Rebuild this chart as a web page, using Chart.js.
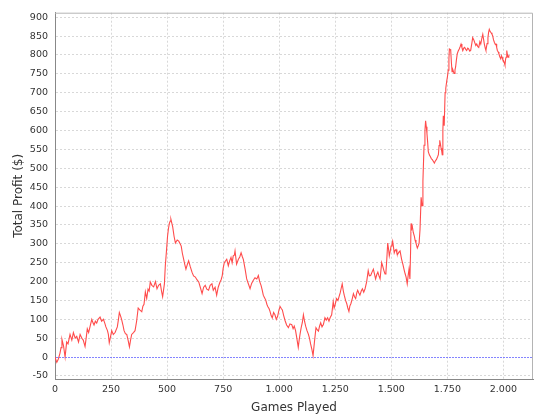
<!DOCTYPE html>
<html>
<head>
<meta charset="utf-8">
<script src="https://cdn.jsdelivr.net/npm/chart.js@4"></script>
<style>
  html, body { margin: 0; padding: 0; background: #fff; }
  #wrap { width: 540px; height: 420px; }
</style>
</head>
<body>
<div id="wrap"><canvas id="chart"></canvas></div>
<script>
// games played (x) and running total profit (y)
const games = [0, 8, 15, 22, 27, 31, 38, 45, 52, 58, 67, 75, 82, 90, 97, 105, 112, 120, 126, 134, 140, 144, 150, 156, 164, 170, 174, 180, 186, 192, 201, 208, 216, 222, 227, 234, 238, 242, 248, 253, 260, 268, 278, 283, 287, 292, 297, 303, 308, 314, 320, 326, 332, 337, 342, 350, 357, 364, 371, 378, 387, 392, 397, 403, 409, 415, 420, 425, 432, 440, 448, 455, 462, 470, 475, 480, 488, 492, 497, 502, 506, 510, 514, 517, 521, 525, 531, 537, 545, 552, 558, 563, 568, 574, 579, 584, 590, 596, 603, 611, 618, 626, 633, 641, 648, 656, 663, 670, 677, 685, 692, 700, 706, 714, 721, 728, 736, 741, 746, 750, 755, 761, 766, 773, 779, 785, 790, 795, 800, 803, 810, 818, 824, 830, 836, 840, 848, 855, 862, 870, 877, 884, 892, 900, 907, 913, 919, 924, 929, 934, 940, 945, 949, 955, 959, 964, 969, 975, 981, 987, 993, 999, 1004, 1010, 1014, 1020, 1026, 1033, 1041, 1048, 1056, 1062, 1067, 1073, 1078, 1085, 1089, 1093, 1098, 1103, 1108, 1113, 1118, 1124, 1130, 1135, 1140, 1146, 1151, 1157, 1164, 1170, 1175, 1180, 1185, 1191, 1197, 1204, 1210, 1216, 1222, 1227, 1234, 1241, 1245, 1249, 1256, 1262, 1267, 1272, 1276, 1281, 1286, 1290, 1296, 1301, 1306, 1311, 1315, 1320, 1326, 1331, 1336, 1341, 1346, 1350, 1355, 1360, 1366, 1371, 1377, 1383, 1390, 1397, 1402, 1408, 1414, 1420, 1425, 1430, 1435, 1440, 1445, 1450, 1457, 1462, 1467, 1472, 1476, 1480, 1484, 1488, 1491, 1495, 1499, 1503, 1506, 1510, 1513, 1517, 1521, 1525, 1528, 1534, 1539, 1546, 1552, 1558, 1562, 1566, 1571, 1575, 1579, 1583, 1586, 1588, 1591, 1594, 1598, 1603, 1606, 1610, 1613, 1616, 1620, 1624, 1628, 1633, 1637, 1641, 1646, 1650, 1653, 1656, 1659, 1662, 1665, 1670, 1674, 1679, 1683, 1688, 1692, 1697, 1701, 1706, 1710, 1713, 1716, 1719, 1722, 1725, 1727, 1730, 1732, 1736, 1740, 1743, 1747, 1751, 1754, 1757, 1759, 1762, 1765, 1768, 1771, 1775, 1780, 1784, 1787, 1790, 1794, 1798, 1803, 1807, 1811, 1815, 1819, 1823, 1827, 1832, 1836, 1841, 1845, 1850, 1854, 1859, 1863, 1868, 1872, 1877, 1881, 1886, 1890, 1895, 1899, 1904, 1908, 1912, 1915, 1919, 1922, 1927, 1931, 1934, 1937, 1941, 1945, 1949, 1952, 1956, 1960, 1964, 1967, 1970, 1973, 1977, 1980, 1984, 1988, 1991, 1994, 1997, 2000, 2004, 2007, 2010, 2012, 2014, 2016, 2018, 2021, 2024, 2027];
const profit = [0, -14, -5, 10, 25, 47, 30, 0, 40, 35, 60, 45, 65, 50, 55, 40, 60, 50, 45, 28, 55, 75, 65, 80, 100, 90, 85, 95, 90, 100, 106, 95, 100, 90, 80, 70, 60, 38, 55, 70, 60, 65, 80, 100, 118, 110, 100, 85, 70, 62, 60, 45, 27, 45, 60, 65, 70, 95, 130, 125, 120, 135, 140, 173, 155, 180, 175, 199, 190, 186, 200, 181, 190, 194, 175, 160, 194, 242, 280, 320, 340, 354, 360, 365, 355, 345, 320, 302, 310, 307, 300, 294, 275, 259, 245, 233, 245, 255, 240, 225, 215, 212, 205, 199, 185, 168, 185, 190, 180, 177, 190, 194, 177, 185, 164, 185, 199, 205, 216, 235, 250, 255, 259, 242, 255, 264, 250, 268, 270, 281, 246, 259, 265, 276, 265, 259, 233, 207, 195, 181, 195, 203, 210, 207, 216, 200, 190, 178, 164, 158, 151, 140, 134, 128, 121, 110, 104, 118, 112, 100, 108, 125, 134, 128, 125, 110, 97, 85, 78, 88, 86, 75, 82, 70, 52, 26, 45, 61, 78, 91, 112, 95, 82, 70, 61, 50, 35, 20, 4, 39, 78, 72, 69, 82, 91, 80, 86, 104, 98, 104, 95, 104, 112, 147, 130, 138, 155, 150, 160, 170, 181, 194, 175, 164, 150, 142, 130, 121, 135, 142, 155, 168, 160, 155, 170, 177, 170, 164, 175, 181, 172, 181, 199, 229, 215, 216, 225, 233, 220, 207, 218, 225, 215, 207, 250, 240, 229, 220, 225, 260, 302, 285, 268, 280, 294, 300, 307, 290, 276, 283, 285, 275, 272, 278, 281, 259, 245, 229, 220, 212, 194, 215, 233, 207, 280, 354, 340, 345, 330, 320, 310, 302, 295, 289, 295, 302, 337, 423, 401, 466, 561, 600, 626, 610, 592, 570, 544, 535, 531, 525, 523, 518, 514, 520, 523, 530, 536, 560, 574, 565, 553, 545, 536, 600, 639, 613, 700, 712, 730, 745, 760, 790, 816, 815, 812, 780, 756, 760, 751, 760, 769, 785, 803, 810, 816, 822, 829, 820, 812, 818, 820, 815, 812, 818, 816, 810, 812, 830, 846, 840, 833, 825, 829, 822, 820, 835, 829, 845, 855, 840, 829, 818, 812, 830, 846, 860, 868, 862, 859, 855, 851, 840, 833, 828, 829, 820, 812, 808, 803, 795, 790, 798, 794, 788, 786, 780, 773, 790, 794, 805, 812, 800, 794, 798, 799];

const xTicks = [0, 250, 500, 750, 1000, 1250, 1500, 1750, 2000];
const yTicks = [-50, 0, 50, 100, 150, 200, 250, 300, 350, 400, 450, 500, 550, 600, 650, 700, 750, 800, 850, 900];

const tickFont = { family: 'DejaVu Sans', size: 9.5 };
const titleFont = { family: 'DejaVu Sans', size: 12 };

const fmt = v => String(v).replace(/\B(?=(\d{3})+(?!\d))/g, '.');

const extras = {
  id: 'extras',
  afterDatasetsDraw(chart) {
    const { ctx, chartArea: a, scales } = chart;
    const y0 = Math.round(scales.y.getPixelForValue(0));
    ctx.save();
    ctx.fillStyle = 'rgba(110, 110, 255, 0.85)';
    // blue dotted zero marker
    for (let x = Math.ceil(a.left) + 1; x < a.right - 1; x += 3) {
      ctx.fillRect(x, y0, 2, 1);
    }
    ctx.restore();
  },
  afterDraw(chart) {
    const { ctx, chartArea: a } = chart;
    ctx.save();
    ctx.strokeStyle = '#b4b4b4';
    ctx.lineWidth = 1;
    ctx.beginPath();
    ctx.moveTo(a.left, a.top + 0.5);
    ctx.lineTo(a.right - 0.5, a.top + 0.5);
    ctx.lineTo(a.right - 0.5, a.bottom);
    ctx.stroke();
    ctx.restore();
  }
};

new Chart(document.getElementById('chart'), {
  type: 'line',
  data: {
    datasets: [{
      data: games.map((g, i) => ({ x: g, y: profit[i] })),
      borderColor: 'rgb(255, 75, 75)',
      borderWidth: 1.1,
      pointRadius: 0,
      tension: 0,
      fill: false
    }]
  },
  options: {
    responsive: true,
    maintainAspectRatio: false,
    animation: false,
    layout: { padding: { top: 4, right: 7, left: 0, bottom: 0 } },
    plugins: { legend: { display: false }, tooltip: { enabled: false } },
    scales: {
      x: {
        type: 'linear',
        min: 0,
        max: 2132,
        afterFit: s => { s.height = 41; },
        afterBuildTicks: s => { s.ticks = xTicks.map(v => ({ value: v })); },
        ticks: { font: tickFont, color: '#333', padding: 5, maxRotation: 0, callback: v => fmt(v) },
        grid: { color: '#d8d8d8', drawTicks: false },
        border: { display: true, color: '#888', dash: [2, 2] },
        title: { display: true, text: 'Games Played', font: titleFont, color: '#333', padding: { top: 0, bottom: 5 } }
      },
      y: {
        min: -58,
        max: 912,
        afterFit: s => { s.width = 55; },
        afterBuildTicks: s => { s.ticks = yTicks.map(v => ({ value: v })); },
        ticks: { font: tickFont, color: '#333', padding: 7 },
        grid: { color: c => (c.tick && c.tick.value === 0 ? 'rgba(0,0,0,0)' : '#d8d8d8'), drawTicks: false },
        border: { display: true, color: '#888', dash: [2, 2] },
        title: { display: true, text: 'Total Profit ($)', font: titleFont, color: '#333', padding: { top: 12, bottom: 0 } }
      }
    }
  },
  plugins: [extras]
});
</script>
</body>
</html>
